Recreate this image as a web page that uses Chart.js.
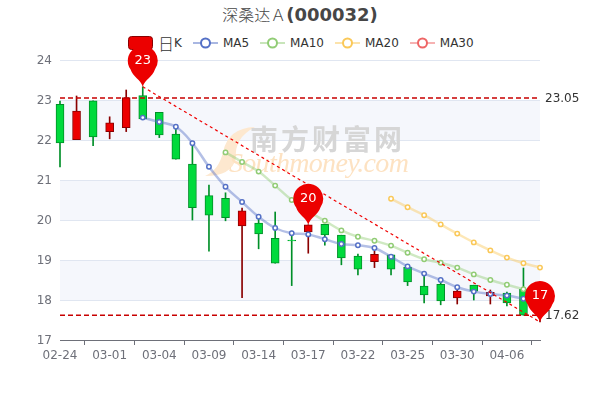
<!DOCTYPE html>
<html>
<head>
<meta charset="utf-8">
<style>
  html, body { margin: 0; padding: 0; background: #fff; }
  #box { position: relative; width: 600px; height: 400px; overflow: hidden; font-family: 'DejaVu Sans', 'Noto Sans CJK SC', sans-serif; }
  #chart { position: absolute; left: 0; top: 0; z-index: 2; }
  #title { position: absolute; left: 0; top: 2px; width: 600px; text-align: center; color: #464646; line-height: 22px; white-space: nowrap; }
  #title .cn { font: 300 16px 'Noto Sans CJK SC', sans-serif; }
  #title .code { font: bold 18px 'DejaVu Sans', sans-serif; }
  #legend { position: absolute; left: 128px; top: 34px; height: 18px; display: flex; align-items: center; color: #333; font-size: 12px; white-space: nowrap; z-index: 1; }
  .item { display: flex; align-items: center; margin-right: 11px; }
  .item svg { margin-right: 5px; display: block; }
  .big { font: 300 16px 'Noto Sans CJK SC', sans-serif; }
</style>
</head>
<body>
<div id="box">
  <div id="title"><span class="cn">深桑达Ａ</span><span class="code">(000032)</span></div>
  <div id="legend"></div>
  <canvas id="chart" width="600" height="400"></canvas>
</div>
<script src="https://cdn.jsdelivr.net/npm/chart.js@4"></script>
<script>
const dates = ['02-24','02-25','02-28','03-01','03-02','03-03','03-04','03-07','03-08','03-09',
  '03-10','03-11','03-14','03-15','03-16','03-17','03-18','03-21','03-22','03-23',
  '03-24','03-25','03-28','03-29','03-30','03-31','04-01','04-06','04-07','04-08'];

const opens = [22.89,22.01,22.98,22.21,22.31,23.11,22.69,22.15,21.40,20.61,
  20.54,19.85,19.92,19.54,19.50,19.70,19.89,19.62,19.10,18.96,
  19.13,18.82,18.35,18.39,18.05,18.37,18.10,18.17,18.27,17.62];
const closes = [21.93,22.72,22.08,22.43,23.06,22.53,22.13,21.52,20.31,20.12,
  20.06,20.23,19.65,18.92,19.48,19.88,19.63,19.05,18.77,19.14,
  18.77,18.45,18.13,17.98,18.22,18.22,18.19,17.93,17.62,17.80];
const highs = [22.97,23.10,22.98,22.58,23.25,23.33,22.69,22.27,21.90,20.87,
  20.68,20.30,20.08,20.20,19.72,19.88,19.89,19.62,19.15,19.22,
  19.13,18.85,18.65,18.50,18.33,18.37,18.25,18.20,18.80,17.80];
const lows = [21.33,22.01,21.86,22.03,22.21,22.53,22.06,21.52,20.00,19.22,
  19.98,18.06,19.28,18.92,18.36,19.17,19.37,18.88,18.63,18.81,
  18.63,18.36,17.93,17.88,17.90,18.00,17.90,17.85,17.62,17.45];

const ma5 = [null,null,null,null,null,22.56,22.45,22.33,21.92,21.33,
  20.83,20.45,20.08,19.80,19.67,19.64,19.52,19.40,19.37,19.30,
  19.08,18.84,18.66,18.50,18.32,18.21,18.15,18.11,18.03,17.95];
const ma10 = [null,null,null,null,null,null,null,null,null,null,
  21.69,21.45,21.21,20.86,20.50,20.22,19.98,19.74,19.58,19.48,
  19.36,19.18,19.02,18.93,18.81,18.64,18.50,18.38,18.27,18.15];
const ma20 = [null,null,null,null,null,null,null,null,null,null,
  null,null,null,null,null,null,null,null,null,null,
  20.53,20.32,20.12,19.89,19.66,19.44,19.24,19.06,18.92,18.81];
const ma30 = dates.map(() => null);

const legendNames = ['MA5', 'MA10', 'MA20', 'MA30'];
const legendColors = ['#5470c6', '#91cc75', '#fac858', '#ee6666'];

const pinIndexes = [5, 15, 29];
const pinValues = [23.33, 19.88, 17.45];
const pinLabels = ['23', '20', '17'];

const levelLines = [23.05, 17.62];
const trendFrom = [5, 23.33];
const trendTo = [29, 17.45];
const tintedBands = [[22, 23], [20, 21], [18, 19]];

const upFill = '#ec0000', upLine = '#8a0000', downFill = '#00da3c', downLine = '#008f28';
const isUp = i => closes[i] >= opens[i];

function maLine(label, data, color) {
  return {
    type: 'line', label: label, data: data, order: 1,
    borderColor: color + '70', borderWidth: 2.5, tension: 0.4,
    pointRadius: 2.2, pointBorderWidth: 1.5, pointBorderColor: color, pointBackgroundColor: '#fff',
    clip: false
  };
}

// legend sits under the canvas, the 23 pin overlaps its first icon
const legend = document.getElementById('legend');
legend.innerHTML = '<div class="item"><svg width="25" height="14"><rect x=".5" y=".5" width="24" height="13" rx="3" fill="' + upFill + '" stroke="' + upLine + '"/></svg><span class="big">日</span>K</div>' +
  legendNames.map((n, i) => '<div class="item"><svg width="25" height="14"><line x1="0" x2="25" y1="7" y2="7" stroke="' + legendColors[i] + '" stroke-opacity=".5" stroke-width="2"/><circle cx="12.5" cy="7" r="4.5" fill="#fff" stroke="' + legendColors[i] + '" stroke-width="2"/></svg>' + n + '</div>').join('');

const bandsPlugin = {
  id: 'bands',
  beforeDraw(chart) {
    const { ctx, chartArea: a, scales: { y } } = chart;
    ctx.save();
    ctx.fillStyle = '#f5f7fc';
    tintedBands.forEach(b => {
      ctx.fillRect(a.left, y.getPixelForValue(b[1]), a.right - a.left, y.getPixelForValue(b[0]) - y.getPixelForValue(b[1]));
    });
    ctx.restore();
  }
};

const watermarkPlugin = {
  id: 'watermark',
  beforeDatasetsDraw(chart) {
    const ctx = chart.ctx;
    ctx.save();
    // swoosh of the logo
    ctx.fillStyle = '#fde8cf';
    ctx.beginPath();
    ctx.moveTo(255, 127);
    ctx.quadraticCurveTo(228, 128, 223, 152);
    ctx.quadraticCurveTo(219, 170, 205, 176);
    ctx.quadraticCurveTo(232, 176, 236, 158);
    ctx.quadraticCurveTo(234, 138, 255, 127);
    ctx.fill();
    ctx.fillStyle = '#d6d6d6';
    ctx.font = 'bold 28px "Noto Sans CJK SC"';
    ctx.textBaseline = 'alphabetic';
    ctx.letterSpacing = '3px';
    ctx.fillText('南方财富网', 250, 150);
    ctx.fillStyle = '#fde2c2';
    ctx.font = 'italic 28px "Liberation Serif"';
    ctx.letterSpacing = '-0.7px';
    ctx.fillText('Southmoney.com', 229, 172);
    ctx.restore();
  }
};

const marksPlugin = {
  id: 'marks',
  afterDatasetsDraw(chart) {
    const { ctx, chartArea: a, scales: { x, y } } = chart;
    ctx.save();

    ctx.strokeStyle = '#f00000';
    ctx.lineWidth = 1.2;
    ctx.setLineDash([3, 3]);
    ctx.beginPath();
    ctx.moveTo(x.getPixelForValue(trendFrom[0]), y.getPixelForValue(trendFrom[1]));
    ctx.lineTo(x.getPixelForValue(trendTo[0]), y.getPixelForValue(trendTo[1]));
    ctx.stroke();

    ctx.strokeStyle = '#c80000';
    ctx.lineWidth = 1.4;
    ctx.setLineDash([5, 3]);
    ctx.font = '12px "DejaVu Sans"';
    ctx.fillStyle = '#333';
    ctx.textBaseline = 'middle';
    levelLines.forEach(v => {
      const py = y.getPixelForValue(v);
      ctx.beginPath();
      ctx.moveTo(a.left, py);
      ctx.lineTo(a.right, py);
      ctx.stroke();
      ctx.fillText(v.toFixed(2), a.right + 5, py + 1);
    });
    ctx.setLineDash([]);

    pinIndexes.forEach((idx, i) => {
      const px = x.getPixelForValue(idx), py = y.getPixelForValue(pinValues[i]);
      const r = 15, cy = py - 26;
      ctx.fillStyle = '#ec0000';
      ctx.beginPath();
      ctx.arc(px, cy, r, Math.PI * 0.8, Math.PI * 0.2);
      ctx.bezierCurveTo(px + 10, cy + 16, px + 2, cy + 19, px, py);
      ctx.bezierCurveTo(px - 2, cy + 19, px - 10, cy + 16, px - r * Math.cos(Math.PI * 0.2), cy + r * Math.sin(Math.PI * 0.2));
      ctx.fill();
      ctx.fillStyle = '#fff';
      ctx.font = '13px "DejaVu Sans"';
      ctx.textAlign = 'center';
      ctx.fillText(pinLabels[i], px, cy);
      ctx.textAlign = 'start';
    });
    ctx.restore();
  }
};

new Chart(document.getElementById('chart'), {
  data: {
    labels: dates,
    datasets: [
      maLine('MA30', ma30, legendColors[3]),
      maLine('MA20', ma20, legendColors[2]),
      maLine('MA10', ma10, legendColors[1]),
      maLine('MA5', ma5, legendColors[0]),
      {
        type: 'bar', label: '日K', order: 2, grouped: false, barThickness: 8, clip: false,
        data: dates.map((d, i) => [opens[i], closes[i]]),
        backgroundColor: dates.map((d, i) => isUp(i) ? upFill : downFill),
        borderColor: dates.map((d, i) => isUp(i) ? upLine : downLine),
        borderWidth: 1, borderSkipped: false
      },
      {
        type: 'bar', label: 'wick', order: 3, grouped: false, barThickness: 1, clip: false,
        data: dates.map((d, i) => [lows[i], highs[i]]),
        backgroundColor: dates.map((d, i) => isUp(i) ? upLine : downLine),
        borderWidth: 0
      }
    ]
  },
  options: {
    responsive: false,
    animation: false,
    layout: { padding: { left: 0, right: 60, top: 60, bottom: 0 } },
    plugins: { legend: { display: false }, title: { display: false }, tooltip: { enabled: false } },
    scales: {
      x: {
        offset: false,
        afterFit(s) { s.height = 60; },
        afterBuildTicks(s) { s.ticks = s.ticks.filter(t => t.value % 3 === 0); },
        border: { color: '#6e7079' },
        grid: { drawOnChartArea: false, tickLength: 5, tickColor: '#6e7079' },
        ticks: { autoSkip: false, maxRotation: 0, padding: 4, color: '#6e7079', font: { family: 'DejaVu Sans', size: 12 } }
      },
      y: {
        min: 17, max: 24,
        afterFit(s) { s.width = 60; },
        border: { display: false },
        grid: { color: '#e0e6f1', drawTicks: false },
        ticks: { stepSize: 1, padding: 8, labelOffset: 1, color: '#6e7079', font: { family: 'DejaVu Sans', size: 12 } }
      }
    }
  },
  plugins: [bandsPlugin, watermarkPlugin, marksPlugin]
});
</script>
</body>
</html>
